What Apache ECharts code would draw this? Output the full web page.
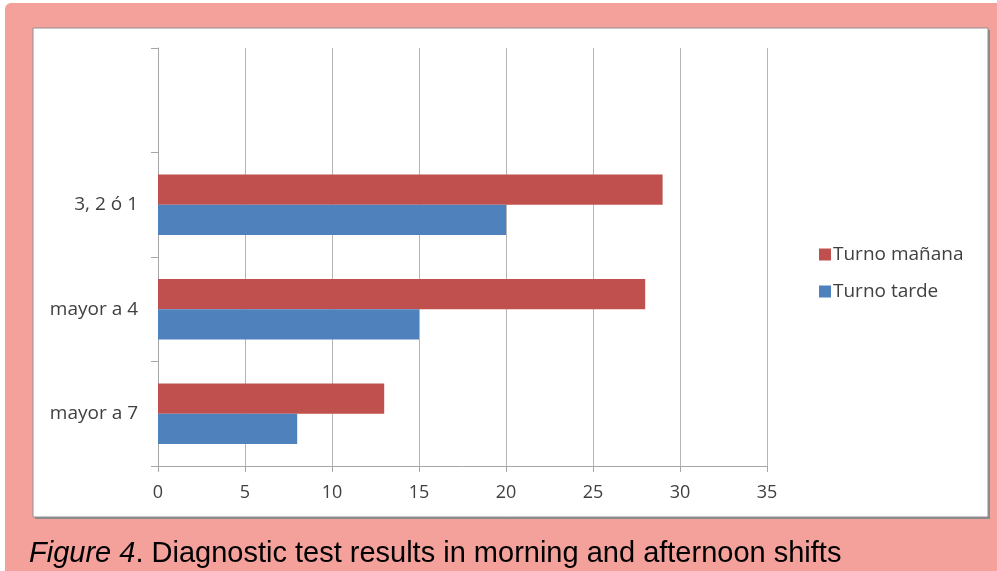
<!DOCTYPE html>
<html><head><meta charset="utf-8">
<script src="https://cdn.jsdelivr.net/npm/echarts@6/dist/echarts.min.js"></script>
<style>html,body{margin:0;padding:0;background:#fff}#c{width:997px;height:571px}</style>
</head><body><div id="c"></div>
<script>
const categories = ['mayor a 7', 'mayor a 4', '3, 2 ó 1', ''];
const turnoManana = [13, 28, 29, null];
const turnoTarde = [8, 15, 20, null];
const xTicks = [0, 35, 5];

const chart = echarts.init(document.getElementById('c'));
const axisGray = '#a6a6a6';
const labelColor = '#404040';
const font = '"Open Sans", Lato, sans-serif';
chart.setOption({
  backgroundColor: '#ffffff',
  animation: false,
  graphic: [
    {type: 'rect', z: -10, shape: {x: 5, y: 3, width: 992, height: 568, r: [6, 0, 0, 0]}, style: {fill: '#F4A19C'}},
    {type: 'rect', z: -9, shape: {x: 35, y: 30, width: 955, height: 489}, style: {fill: '#8a8a8a'}},
    {type: 'rect', z: -8, shape: {x: 33, y: 28, width: 955, height: 489}, style: {fill: '#ffffff', stroke: '#8f8f8f', lineWidth: 1}},
    {type: 'text', left: 29, top: 539, style: {
      text: '{i|Figure 4}. Diagnostic test results in morning and afternoon shifts',
      font: '29px "Liberation Sans", Arial, sans-serif', fill: '#000',
      rich: {i: {fontStyle: 'italic', fontSize: 29, fontFamily: '"Liberation Sans", Arial, sans-serif', fill: '#000'}}
    }}
  ],
  grid: {left: 158, right: 230, top: 48, bottom: 105, containLabel: false},
  legend: {
    data: ['Turno mañana', 'Turno tarde'],
    orient: 'vertical', left: 814, top: 240, itemGap: 18,
    itemWidth: 12, itemHeight: 12, icon: 'rect',
    textStyle: {fontSize: 19, color: labelColor, fontFamily: font, padding: [0, 0, 0, -3]}
  },
  xAxis: {
    type: 'value', min: xTicks[0], max: xTicks[1], interval: xTicks[2],
    axisLine: {show: true, lineStyle: {color: axisGray}},
    axisTick: {show: true, length: 6, lineStyle: {color: axisGray}},
    splitLine: {show: true, lineStyle: {color: '#b5b5b5'}},
    axisLabel: {color: labelColor, fontSize: 18, fontFamily: font, margin: 18}
  },
  yAxis: {
    type: 'category', data: categories,
    axisLine: {show: true, lineStyle: {color: axisGray}},
    axisTick: {show: true, length: 7, lineStyle: {color: axisGray}},
    axisLabel: {color: labelColor, fontSize: 19, fontFamily: font, margin: 20}
  },
  series: [
    {name: 'Turno mañana', type: 'bar', data: turnoManana, barGap: '0%', barCategoryGap: '42%', itemStyle: {color: '#C0504D'}},
    {name: 'Turno tarde', type: 'bar', data: turnoTarde, barGap: '0%', barCategoryGap: '42%', itemStyle: {color: '#4F81BD'}}
  ]
});
</script></body></html>
